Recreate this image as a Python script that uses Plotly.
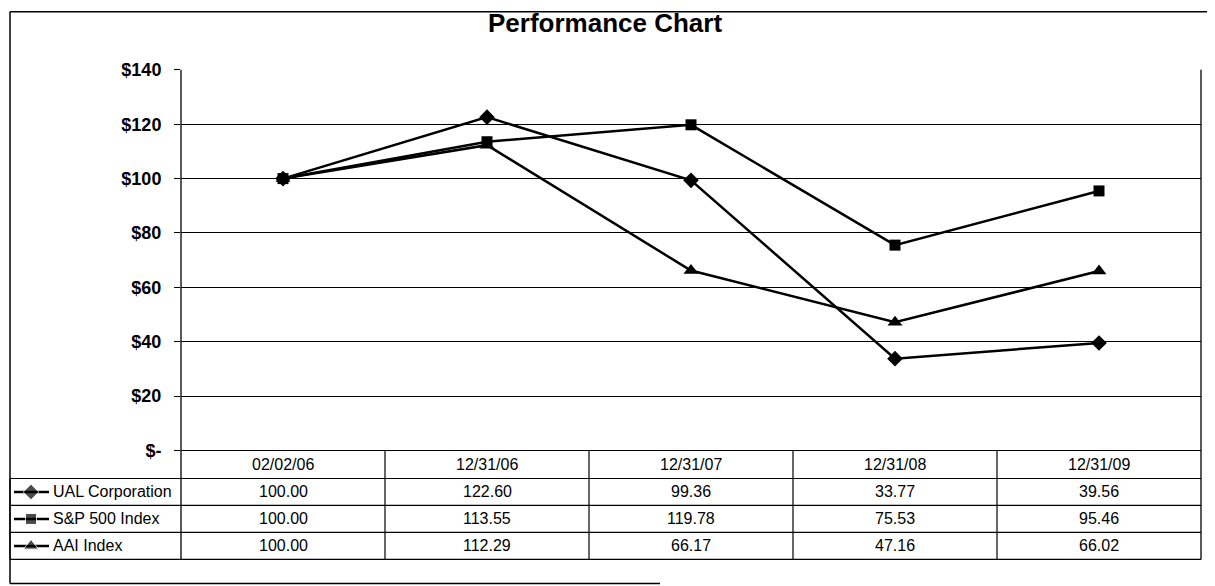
import plotly.graph_objects as go

# ---------------- data ----------------
categories = ["02/02/06", "12/31/06", "12/31/07", "12/31/08", "12/31/09"]
series_names = ["UAL Corporation", "S&P 500 Index", "AAI Index"]
ual = [100.00, 122.60, 99.36, 33.77, 39.56]
sp500 = [100.00, 113.55, 119.78, 75.53, 95.46]
aai = [100.00, 112.29, 66.17, 47.16, 66.02]
y_tickvals = [0, 20, 40, 60, 80, 100, 120, 140]
y_ticktext = ["$-", "$20", "$40", "$60", "$80", "$100", "$120", "$140"]
title_text = "Performance Chart"

# ---------------- layout geometry (target picture pixels) ----------------
PAGE_W = 1215
OFFX, OFFY = 8, 8            # page body margin
Y_SCALE, Y_SHIFT = 0.9668, 9.4   # page -> photographed picture (vertical)
W, H = PAGE_W - 2 * OFFX, 588
PL, PR = 181, 1201           # plot area left / right
PT, PB = 69, 450             # plot area top / bottom
HEADER_BOTTOM = 478
ROW_LINES = [505, 532, 559]  # bottoms of the three series rows
TABLE_BOTTOM = ROW_LINES[-1]
FRAME_L, FRAME_T, FRAME_B = 10, 11, 583
TABLE_L = 10

FONT = "Liberation Sans, Arial, sans-serif"


def px(x):
    return (x - OFFX) / W


def fig_y(y):
    return (y - Y_SHIFT) / Y_SCALE - OFFY


def py(y):
    return 1 - fig_y(y) / H


series = [ual, sp500, aai]
symbols = ["diamond", "square", "triangle-up"]
sizes = [12, 11, 13]

fig = go.Figure()

for name, vals, sym, sz in zip(series_names, series, symbols, sizes):
    fig.add_trace(go.Scatter(
        x=categories, y=vals, name=name, mode="lines+markers",
        line=dict(color="black", width=2.5),
        marker=dict(symbol=sym, size=sz, color="black"),
        xaxis="x", yaxis="y", showlegend=False, cliponaxis=False,
    ))

shapes = []
annotations = []


def hline(y, x0, x1, w=1.2):
    shapes.append(dict(type="line", xref="paper", yref="paper",
                       x0=px(x0), x1=px(x1), y0=py(y), y1=py(y),
                       line=dict(color="black", width=w)))


def vline(x, y0, y1, w=1.2, xref="paper"):
    xv = px(x) if xref == "paper" else x
    shapes.append(dict(type="line", xref=xref, yref="paper",
                       x0=xv, x1=xv, y0=py(y0), y1=py(y1),
                       line=dict(color="black", width=w)))


# outer frame
vline(FRAME_L, FRAME_T, FRAME_B, 1.5)
hline(FRAME_T, FRAME_L, PAGE_W, 1.5)
hline(FRAME_B, FRAME_L, 660, 1.5)

# plot area left / right edges
vline(PL, PT, TABLE_BOTTOM, 1.3)
vline(PR, PT, TABLE_BOTTOM, 1.3)

# table horizontal lines
hline(PB, PL, PR)
hline(HEADER_BOTTOM, TABLE_L, PR)
for yl in ROW_LINES:
    hline(yl, TABLE_L, PR)
vline(TABLE_L, HEADER_BOTTOM, TABLE_BOTTOM)

# column dividers, aligned with the category scale
for i in range(1, len(categories)):
    vline(i - 0.5, PB, TABLE_BOTTOM, 1.2, xref="x")

cell_font = dict(family=FONT, size=16, color="black")

# header row
for i, c in enumerate(categories):
    annotations.append(dict(x=i, y=py((PB + HEADER_BOTTOM) / 2), xref="x", yref="paper",
                            text=c, showarrow=False, font=cell_font,
                            xanchor="center", yanchor="middle"))

# data rows
row_tops = [HEADER_BOTTOM] + ROW_LINES[:-1]
for r, (name, vals) in enumerate(zip(series_names, series)):
    yc = (row_tops[r] + ROW_LINES[r]) / 2
    for i, v in enumerate(vals):
        annotations.append(dict(x=i, y=py(yc), xref="x", yref="paper",
                                text=f"{v:.2f}", showarrow=False, font=cell_font,
                                xanchor="center", yanchor="middle"))
    annotations.append(dict(x=px(51), y=py(yc), xref="paper", yref="paper",
                            text=name, showarrow=False, font=cell_font,
                            xanchor="left", yanchor="middle"))
    # legend key (overlay axes in picture pixels)
    fy = fig_y(yc)
    fig.add_trace(go.Scatter(
        x=[14, 31, 49], y=[fy, fy, fy], mode="lines+markers",
        line=dict(color="black", width=2.5),
        marker=dict(symbol=symbols[r], size=[0, sizes[r], 0], color="black"),
        xaxis="x2", yaxis="y2", showlegend=False, hoverinfo="skip",
    ))

# title
annotations.append(dict(x=px(605), y=py(22), xref="paper", yref="paper",
                        text=f"<b>{title_text}</b>", showarrow=False,
                        font=dict(family=FONT, size=26, color="black"),
                        xanchor="center", yanchor="middle"))

fig.update_layout(
    width=W, height=H, autosize=False,
    margin=dict(l=0, r=0, t=0, b=0),
    paper_bgcolor="white", plot_bgcolor="rgba(0,0,0,0)",
    showlegend=False,
    xaxis=dict(domain=[px(PL), px(PR)], range=[-0.5, 4.5], type="category",
               showticklabels=False, showgrid=False, zeroline=False,
               showline=False, ticks="", anchor="y"),
    yaxis=dict(domain=[py(PB), py(PT)], range=[0, 140],
               tickvals=y_tickvals, ticktext=y_ticktext,
               tickfont=dict(family=FONT, size=18, color="black", weight="bold"),
               showgrid=True, gridcolor="black", gridwidth=1.2,
               zeroline=False, showline=False, ticks="outside",
               ticklen=6, tickcolor="black", tickwidth=1.2,
               ticklabelstandoff=9, anchor="x"),
    xaxis2=dict(domain=[0, 1], range=[OFFX, OFFX + W], visible=False, anchor="y2",
                fixedrange=True),
    yaxis2=dict(domain=[0, 1], range=[H, 0], visible=False, anchor="x2",
                fixedrange=True),
    shapes=shapes,
    annotations=annotations,
    font=dict(family=FONT, color="black"),
)

fig.write_html("out.html")
